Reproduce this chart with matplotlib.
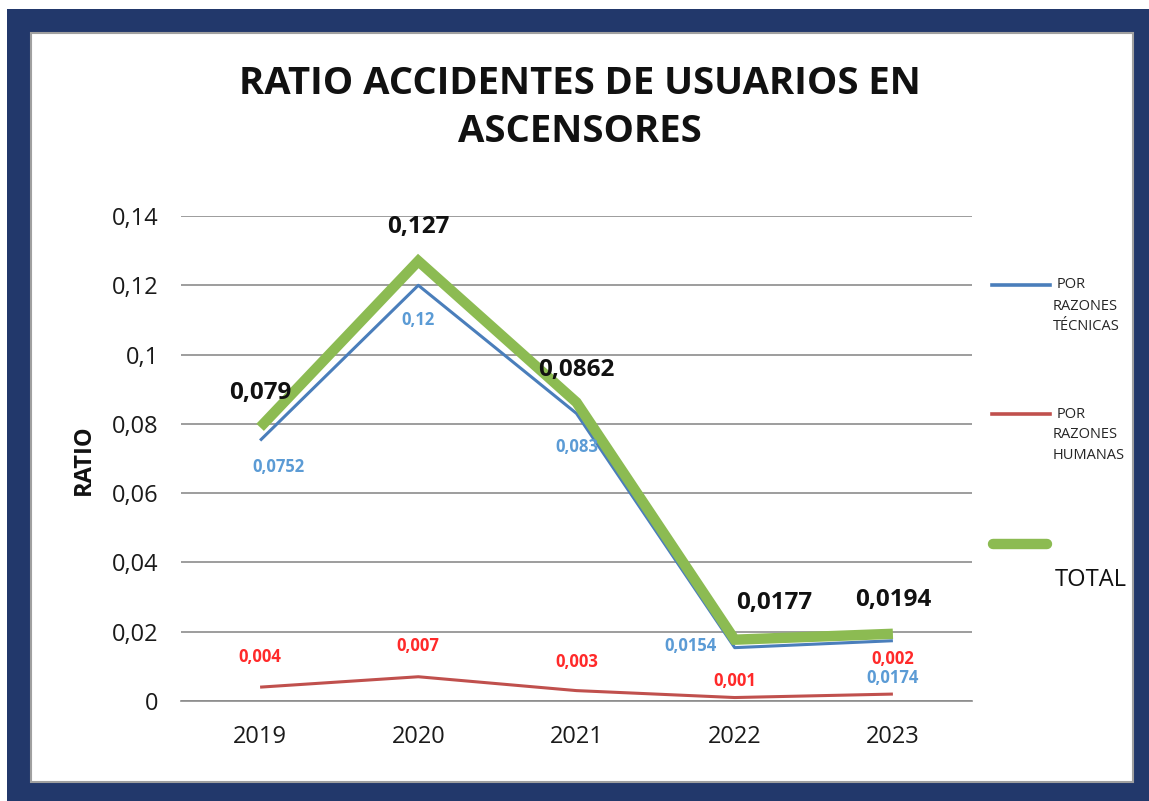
import matplotlib
matplotlib.use("Agg")
import matplotlib.pyplot as plt
from matplotlib.patches import Rectangle
from matplotlib.lines import Line2D
from matplotlib.ticker import FixedLocator

years = ["2019", "2020", "2021", "2022", "2023"]
tecnicas = [0.0752, 0.12, 0.083, 0.0154, 0.0174]
humanas = [0.004, 0.007, 0.003, 0.001, 0.002]
total = [0.079, 0.127, 0.0862, 0.0177, 0.0194]
tec_labels = ["0,0752", "0,12", "0,083", "0,0154", "0,0174"]
hum_labels = ["0,004", "0,007", "0,003", "0,001", "0,002"]
tot_labels = ["0,079", "0,127", "0,0862", "0,0177", "0,0194"]
yticks = [0, 0.02, 0.04, 0.06, 0.08, 0.1, 0.12, 0.14]
ytick_labels = ["0", "0,02", "0,04", "0,06", "0,08", "0,1", "0,12", "0,14"]

plt.rcParams['font.family'] = ['Open Sans', 'DejaVu Sans']

W, H = 1149, 801
fig = plt.figure(figsize=(W / 100, H / 100), dpi=100)
fig.patch.set_facecolor("white")

def fx(px):
    return px / W

def fy(py):
    return 1 - py / H

# navy frame
fig.patches.append(Rectangle((fx(7), 0), 1 - fx(7), fy(9), transform=fig.transFigure,
                             facecolor="#22386b", edgecolor="none", zorder=0))
fig.patches.append(Rectangle((fx(31), fy(782)), fx(1133) - fx(31), fy(33) - fy(782),
                             transform=fig.transFigure, facecolor="white",
                             edgecolor="#a0a0a0", linewidth=1.5, zorder=1))

ax = fig.add_axes([fx(181), fy(701), fx(972) - fx(181), fy(216) - fy(701)])
ax.set_zorder(2)
ax.patch.set_alpha(0)
x = list(range(len(years)))
ax.set_xlim(-0.5, len(years) - 0.5)
ax.set_ylim(0, 0.14)
ax.yaxis.set_major_locator(FixedLocator(yticks))
ax.set_yticklabels(ytick_labels)
ax.set_xticks(x)
ax.set_xticklabels(years)
ax.grid(axis="y", color="#8c8c8c", linewidth=1.2)
ax.set_axisbelow(True)
for s in ["top", "right", "left"]:
    ax.spines[s].set_visible(False)
ax.spines["bottom"].set_color("#8c8c8c")
ax.spines["bottom"].set_linewidth(1.2)
ax.tick_params(axis="both", length=0, labelsize=17, colors="#1a1a1a")
ax.tick_params(axis="y", pad=16)
ax.tick_params(axis="x", pad=17)

ax.plot(x, humanas, color="#c0504d", linewidth=2.2, solid_capstyle="butt", zorder=3)
ax.plot(x, tecnicas, color="#4a7ebb", linewidth=2.2, solid_capstyle="butt", zorder=3)
ax.plot(x, total, color="#8cbb52", linewidth=7.5, solid_capstyle="butt",
        solid_joinstyle="miter", zorder=4)

tot_off = [(0, 34), (0, 34), (0, 32), (39, 37), (0, 34)]
tec_off = [(18, -27), (0, -35), (0, -34), (-44, 2), (0, -37)]
hum_off = [(0, 30), (0, 31), (0, 29), (0, 17), (0, 35)]
for i in x:
    ax.annotate(tot_labels[i], (i, total[i]), xytext=tot_off[i], textcoords="offset pixels",
                ha="center", va="center", fontsize=17.5, fontweight="bold", color="#111111", zorder=6)
    ax.annotate(tec_labels[i], (i, tecnicas[i]), xytext=tec_off[i], textcoords="offset pixels",
                ha="center", va="center", fontsize=12, fontweight="bold", color="#5b9bd5", zorder=6)
    ax.annotate(hum_labels[i], (i, humanas[i]), xytext=hum_off[i], textcoords="offset pixels",
                ha="center", va="center", fontsize=12, fontweight="bold", color="#ff2a2a", zorder=6)

fig.text(fx(84), fy(460), "RATIO", rotation=90, ha="center", va="center",
         fontsize=17, fontweight="bold", color="#111111")
fig.text(fx(580), fy(108), "RATIO ACCIDENTES DE USUARIOS EN\nASCENSORES", ha="center",
         va="center", fontsize=27.5, fontweight="bold", color="#111111", linespacing=1.35)

# legend
leg = [("#4a7ebb", 2.6, 285, ["POR", "RAZONES", "TÉCNICAS"], 10.5),
       ("#c0504d", 2.6, 414, ["POR", "RAZONES", "HUMANAS"], 10.5)]
for col, lw, ly, words, fs in leg:
    fig.lines.append(Line2D([fx(992), fx(1050)], [fy(ly), fy(ly)], transform=fig.transFigure,
                            color=col, linewidth=lw, zorder=5))
    fig.text(fx(1057), fy(ly), words[0], ha="left", va="center", fontsize=fs, color="#262626")
    fig.text(fx(1053), fy(ly + 21), words[1], ha="left", va="center", fontsize=fs, color="#262626")
    fig.text(fx(1053), fy(ly + 41), words[2], ha="left", va="center", fontsize=fs, color="#262626")
fig.lines.append(Line2D([fx(993), fx(1047)], [fy(544), fy(544)], transform=fig.transFigure,
                        color="#8cbb52", linewidth=7.5, solid_capstyle="round", zorder=5))
fig.text(fx(1055), fy(580), "TOTAL", ha="left", va="center", fontsize=17, color="#111111")

fig.savefig("out.png", dpi=100)
